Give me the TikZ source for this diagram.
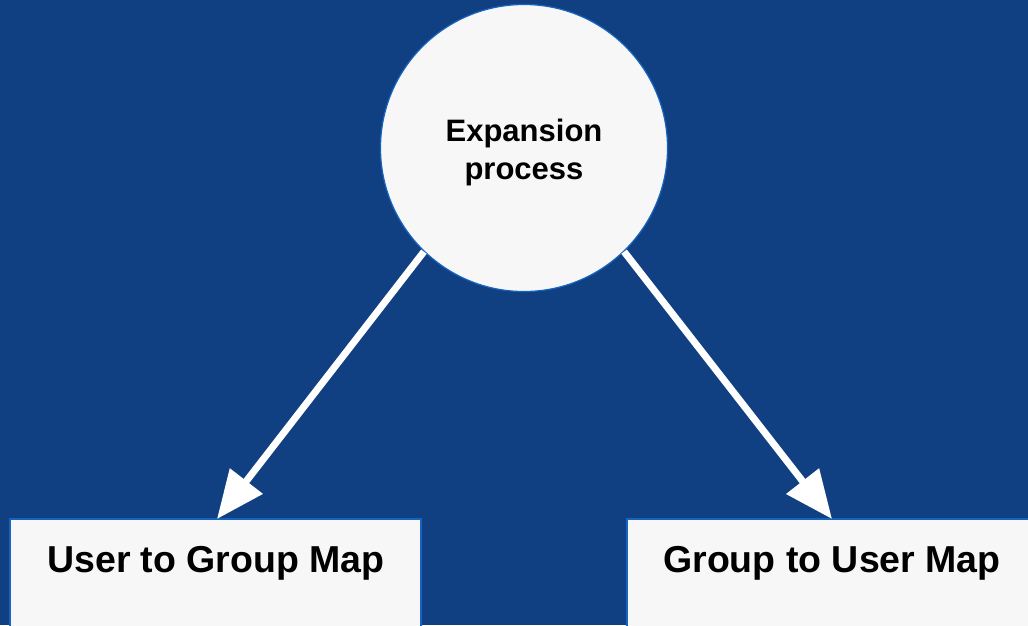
\documentclass[tikz,border=0pt]{standalone}
\usepackage{fontspec}
\setmainfont{Liberation Sans}
\usetikzlibrary{arrows.meta}
\definecolor{bg}{HTML}{114082}
\definecolor{edge}{HTML}{1565C0}
\definecolor{boxfill}{HTML}{F7F7F7}
\tikzset{
  shapebox/.style={draw=edge, line width=1.2pt, fill=boxfill},
  label/.style={font=\bfseries\fontsize{37.5}{40}\selectfont, text=black, anchor=base, inner sep=0pt},
  conn/.style={draw=white, line width=7pt, -{Triangle[width=40pt,length=48pt]}}
}
\begin{document}
\begin{tikzpicture}[x=1pt,y=-1pt]
\fill[bg] (0,0) rectangle (1028,625);
\useasboundingbox (0,0) rectangle (1028,625);
\node[shapebox, circle, minimum size=287pt, inner sep=0pt] (proc) at (524,148) {};
\node[font=\bfseries\fontsize{31}{38}\selectfont, align=center, text=black] (proctext) at (524,152) {Expansion\\process};
\draw[shapebox] (10,519) rectangle (421,640);
\draw[shapebox] (627,519) rectangle (1040,640);
\node[label] (ugm) at (216,572) {User to Group Map};
\node[label] (gum) at (832,572) {Group to User Map};
\coordinate (ltip) at (217,519);
\coordinate (rtip) at (832,519);
\draw[conn] (proc.-134) -- (ltip);
\draw[conn] (proc.-46) -- (rtip);
\end{tikzpicture}
\end{document}
